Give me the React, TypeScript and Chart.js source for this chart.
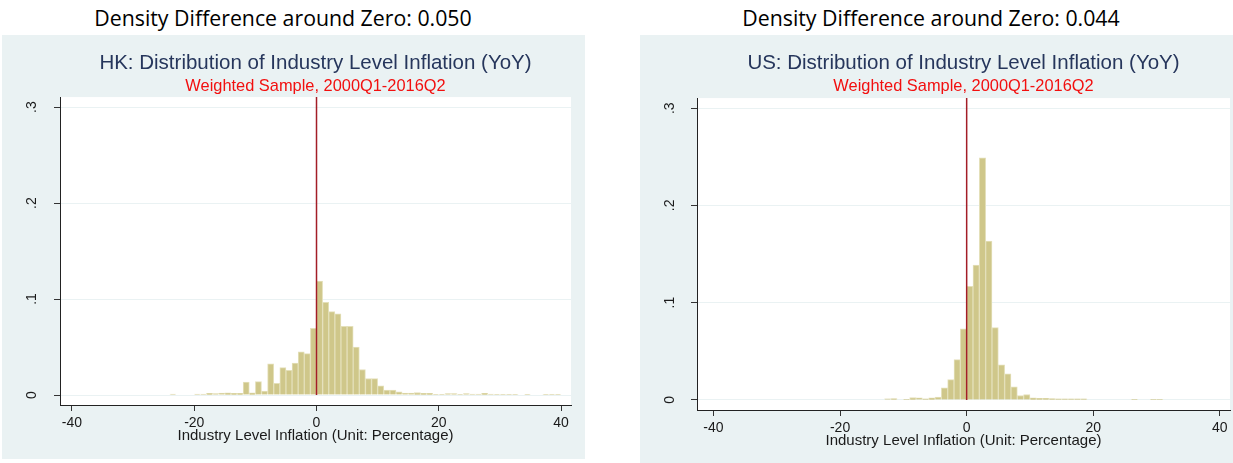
import React, { useEffect, useRef } from 'react';
import { Chart, registerables } from 'chart.js';

Chart.register(...registerables);

// ---------- data ----------
const hkBinStarts = [
  -24, -20, -19, -18, -17, -16, -15, -14, -13, -12, -11, -10, -9, -8, -7, -6, -5, -4, -3, -2, -1,
  0, 1, 2, 3, 4, 5, 6, 7, 8, 9, 10, 11, 12, 13, 14, 15, 16, 17, 18, 19, 20, 21, 22, 23, 24, 25,
  26, 27, 28, 29, 30, 31, 32, 34, 37, 38, 39,
];
const hkDensity = [
  0.001, 0.001, 0.001, 0.0017, 0.0014, 0.002, 0.0024, 0.0017, 0.0017, 0.0135, 0.0024, 0.0139,
  0.0042, 0.0326, 0.0122, 0.0285, 0.0257, 0.0333, 0.0451, 0.0431, 0.0694,
  0.1188, 0.0965, 0.0868, 0.0847, 0.0715, 0.0715, 0.05, 0.0266, 0.0172, 0.017, 0.0095, 0.0052,
  0.0052, 0.0034, 0.002, 0.002, 0.0026, 0.0017, 0.0017, 0.0008, 0.0008, 0.0014, 0.0014, 0.0008,
  0.0014, 0.001, 0.001, 0.0017, 0.001, 0.0008, 0.0008, 0.0008, 0.0008, 0.0008, 0.0008, 0.0008,
  0.0008,
];
const usBinStarts = [
  -13, -12, -10, -9, -8, -7, -6, -5, -4, -3, -2, -1, 0, 1, 2, 3, 4, 5, 6, 7, 8, 9, 10, 11, 12,
  13, 14, 15, 16, 17, 18, 26, 29, 30,
];
const usDensity = [
  0.0012, 0.0014, 0.0007, 0.0024, 0.0022, 0.001, 0.002, 0.0029, 0.0125, 0.0209, 0.0414, 0.073,
  0.1168, 0.1387, 0.249, 0.1634, 0.0743, 0.036, 0.0267, 0.0134, 0.0045, 0.0055, 0.002, 0.0017,
  0.0017, 0.0014, 0.001, 0.001, 0.001, 0.001, 0.001, 0.0007, 0.0007, 0.0007,
];
const binWidth = 1;
const zeroLineX = 0;

const xTickValues = [-40, -20, 0, 20, 40];
const xTickLabels = ['-40', '-20', '0', '20', '40'];
const yTickValues = [0, 0.1, 0.2, 0.3];
const yTickLabels = ['0', '.1', '.2', '.3'];

const headings = ['Density Difference around Zero: 0.050', 'Density Difference around Zero: 0.044'];
const chartTitles = [
  'HK: Distribution of Industry Level Inflation (YoY)',
  'US: Distribution of Industry Level Inflation (YoY)',
];
const chartSubtitle = 'Weighted Sample, 2000Q1-2016Q2';
const xAxisTitle = 'Industry Level Inflation (Unit: Percentage)';

// ---------- styles ----------
const PANEL_BG = '#eaf2f3';
const BAR_FILL = '#cfc78a';
const BAR_EDGE = '#e4e0ba';
const ZERO_LINE = '#a31d27';
const TITLE_COLOR = '#26365c';
const FONT = "'Liberation Sans', Arial, sans-serif";

const decorPlugin = {
  id: 'decor',
  beforeDraw(chart: any) {
    const { ctx, chartArea } = chart;
    ctx.save();
    ctx.fillStyle = '#ffffff';
    ctx.fillRect(chartArea.left, chartArea.top, chartArea.right - chartArea.left, chartArea.bottom - chartArea.top);
    ctx.restore();
  },
  afterDatasetsDraw(chart: any) {
    const { ctx, chartArea, scales } = chart;
    const x = scales.x.getPixelForValue(zeroLineX);
    const yBase = scales.y.getPixelForValue(0);
    ctx.save();
    ctx.strokeStyle = ZERO_LINE;
    ctx.lineWidth = 1.5;
    ctx.beginPath();
    ctx.moveTo(x, chartArea.top);
    ctx.lineTo(x, yBase);
    ctx.stroke();
    ctx.restore();
  },
};

type PanelProps = {
  left: number;
  top: number;
  width: number;
  height: number;
  starts: number[];
  density: number[];
  heading: string;
  headingCenter: number;
  title: string;
  xMin: number;
  xMax: number;
  yAxisWidth: number;
  xAxisHeight: number;
  padRight: number;
  subPadBottom: number;
  yLabelPad: number;
  xTitlePadBottom: number;
};

function Panel(p: PanelProps) {
  const ref = useRef<HTMLCanvasElement | null>(null);
  useEffect(() => {
    if (!ref.current) return;
    const points = p.starts.map((s, i) => ({ x: s + binWidth / 2, y: p.density[i] }));
    const chart = new Chart(ref.current, {
      type: 'bar',
      data: {
        datasets: [
          {
            data: points,
            backgroundColor: BAR_FILL,
            borderColor: BAR_EDGE,
            borderWidth: 1,
            borderSkipped: 'start',
            barPercentage: 1,
            categoryPercentage: 1,
          } as any,
        ],
      },
      options: {
        animation: false,
        responsive: false,
        devicePixelRatio: 1,
        layout: { padding: { left: 0, right: p.padRight, top: 0, bottom: 0 } },
        plugins: {
          legend: { display: false },
          tooltip: { enabled: false },
          title: {
            display: true,
            fullSize: false,
            text: p.title,
            color: TITLE_COLOR,
            font: { family: FONT, size: 20.5, weight: 'normal', lineHeight: 1.2 },
            padding: { top: 16.2, bottom: 0 },
          },
          subtitle: {
            display: true,
            fullSize: false,
            text: chartSubtitle,
            color: '#f20f0f',
            font: { family: FONT, size: 16.4, weight: 'normal', lineHeight: 1.2 },
            padding: { top: 0.4, bottom: p.subPadBottom },
          },
        },
        scales: {
          x: {
            type: 'linear',
            min: p.xMin,
            max: p.xMax,
            offset: false,
            afterBuildTicks: (scale: any) => {
              scale.ticks = xTickValues.map((v) => ({ value: v }));
            },
            afterFit: (scale: any) => {
              scale.height = p.xAxisHeight;
            },
            ticks: {
              callback: (v: any) => xTickLabels[xTickValues.indexOf(Number(v))],
              color: '#1a1a1a',
              font: { family: FONT, size: 14 },
              padding: 4,
              maxRotation: 0,
              autoSkip: false,
            },
            grid: {
              offset: false,
              drawOnChartArea: false,
              drawTicks: true,
              tickLength: 6,
              tickColor: '#333',
              tickWidth: 1,
            },
            border: { display: true, color: '#222', width: 1 },
            title: {
              display: true,
              text: xAxisTitle,
              color: '#1a1a1a',
              font: { family: FONT, size: 15, lineHeight: 1.2 },
              padding: { top: 0, bottom: p.xTitlePadBottom },
            },
          },
          y: {
            type: 'linear',
            min: -0.0104,
            max: 0.3104,
            afterBuildTicks: (scale: any) => {
              scale.ticks = yTickValues.map((v) => ({ value: v }));
            },
            afterFit: (scale: any) => {
              scale.width = p.yAxisWidth;
            },
            ticks: {
              callback: (v: any) => {
                const i = yTickValues.findIndex((t) => Math.abs(t - Number(v)) < 1e-9);
                return yTickLabels[i];
              },
              color: '#1a1a1a',
              font: { family: FONT, size: 14 },
              minRotation: 90,
              maxRotation: 90,
              crossAlign: 'center',
              padding: p.yLabelPad,
              autoSkip: false,
            },
            grid: {
              drawOnChartArea: true,
              color: PANEL_BG,
              lineWidth: 1,
              drawTicks: true,
              tickLength: 6,
              tickColor: '#333',
              tickWidth: 1,
            },
            border: { display: true, color: '#222', width: 1 },
          },
        },
      } as any,
      plugins: [decorPlugin],
    });
    return () => chart.destroy();
  }, []);

  return (
    <>
      <div
        style={{
          position: 'absolute',
          left: p.headingCenter - 300,
          width: 600,
          top: 5,
          textAlign: 'center',
          fontFamily: "'Open Sans', 'Noto Sans', sans-serif",
          fontSize: 21.3,
          lineHeight: '25px',
          color: '#000',
          whiteSpace: 'nowrap',
        }}
      >
        {p.heading}
      </div>
      <div
        style={{
          position: 'absolute',
          left: p.left,
          top: p.top,
          width: p.width,
          height: p.height,
          background: PANEL_BG,
        }}
      >
        <canvas
          ref={ref}
          width={p.width}
          height={p.height}
          style={{ display: 'block', width: p.width, height: p.height }}
        />
      </div>
    </>
  );
}

export default function App() {
  return (
    <div style={{ position: 'absolute', left: 0, top: 0, width: 1233, height: 463, background: '#fff' }}>
      <Panel
        left={2}
        top={35}
        width={583}
        height={424}
        starts={hkBinStarts}
        density={hkDensity}
        heading={headings[0]}
        headingCenter={283}
        title={chartTitles[0]}
        xMin={-41.96}
        xMax={41.63}
        yAxisWidth={58}
        xAxisHeight={54}
        padRight={14}
        subPadBottom={1.2}
        yLabelPad={16}
        xTitlePadBottom={14.5}
      />
      <Panel
        left={640}
        top={35}
        width={593}
        height={428}
        starts={usBinStarts}
        density={usDensity}
        heading={headings[1]}
        headingCenter={931}
        title={chartTitles[1]}
        xMin={-42.6}
        xMax={41.6}
        yAxisWidth={57}
        xAxisHeight={53}
        padRight={3}
        subPadBottom={2.2}
        yLabelPad={15}
        xTitlePadBottom={13.5}
      />
    </div>
  );
}
